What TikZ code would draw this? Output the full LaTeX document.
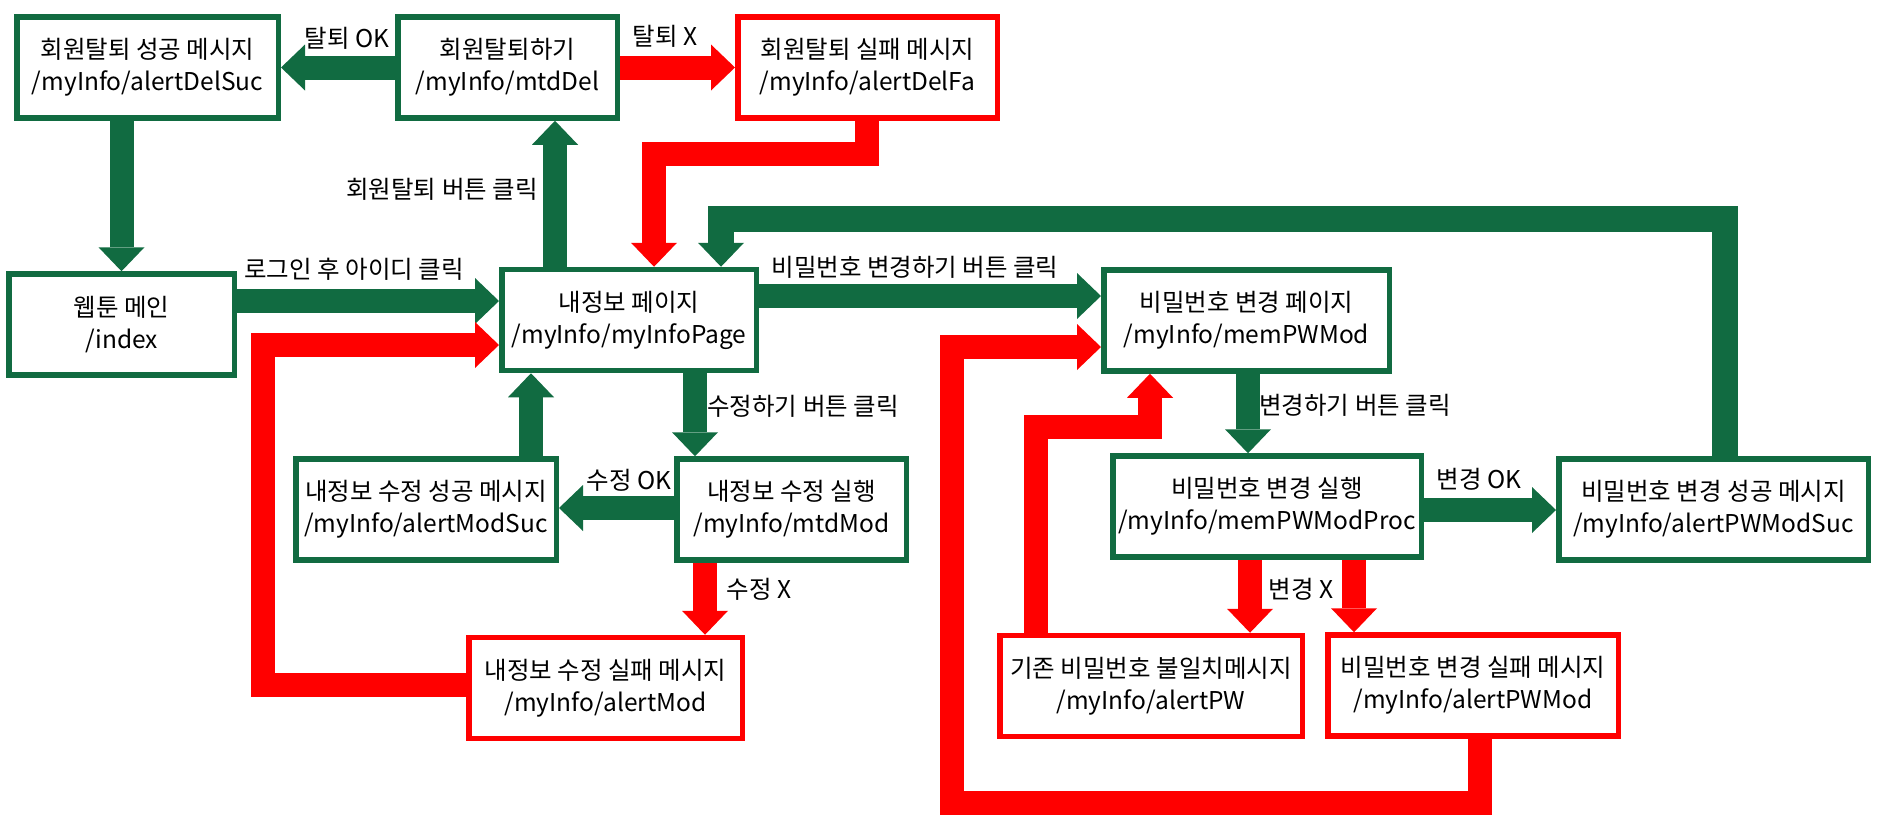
\documentclass[tikz,border=0pt]{standalone}
\usepackage{fontspec}
\setmainfont{Noto Sans CJK KR}
\usetikzlibrary{arrows.meta}
\definecolor{okgreen}{RGB}{17,107,65}
\definecolor{failred}{RGB}{255,0,0}
\begin{document}
\begin{tikzpicture}[x=1pt,y=-1pt,
  font=\fontsize{24.5}{32}\selectfont,
  box/.style={draw, line width=5.5pt, fill=white, minimum height=101pt, align=center, inner sep=0pt},
  okbox/.style={box, draw=okgreen},
  failbox/.style={box, draw=failred},
  flow/.style={line width=24pt, line join=miter,
    -{Triangle[length=24pt,width=46pt,line width=0pt]}},
  okflow/.style={flow, draw=okgreen},
  failflow/.style={flow, draw=failred},
  lbl/.style={inner sep=0pt}
]
\useasboundingbox (0,0) rectangle (1879,825);

% screens and actions
\node[okbox, minimum width=261.5pt] (b1) at (147.5,67.5) {회원탈퇴 성공 메시지\\/myInfo/alertDelSuc};
\node[okbox, minimum width=219.5pt] (b2) at (507.5,67.5) {회원탈퇴하기\\/myInfo/mtdDel};
\node[failbox, minimum width=259.5pt] (b3) at (867.5,67.5) {회원탈퇴 실패 메시지\\/myInfo/alertDelFa};
\node[okbox, minimum width=225.5pt] (b4) at (121.5,324.5) {웹툰 메인\\/index};
\node[okbox, minimum width=254.5pt] (b5) at (629,320) {내정보 페이지\\/myInfo/myInfoPage};
\node[okbox, minimum width=285.5pt] (b6) at (1246.5,320.5) {비밀번호 변경 페이지\\/myInfo/memPWMod};
\node[okbox, minimum width=260.5pt] (b7) at (426,509.5) {내정보 수정 성공 메시지\\/myInfo/alertModSuc};
\node[okbox, minimum width=229.5pt] (b8) at (791.5,509.5) {내정보 수정 실행\\/myInfo/mtdMod};
\node[failbox, minimum width=273.5pt] (b9) at (605.5,688) {내정보 수정 실패 메시지\\/myInfo/alertMod};
\node[okbox, minimum width=308.5pt] (b10) at (1267,506.5) {비밀번호 변경 실행\\/myInfo/memPWModProc};
\node[okbox, minimum width=309.5pt] (b11) at (1713.5,509.5) {비밀번호 변경 성공 메시지\\/myInfo/alertPWModSuc};
\node[failbox, minimum width=302.5pt] (b12) at (1151,686) {기존 비밀번호 불일치메시지\\/myInfo/alertPW};
\node[failbox, minimum width=290.5pt] (b13) at (1473,685.5) {비밀번호 변경 실패 메시지\\/myInfo/alertPWMod};

% withdrawal flow
\draw[okflow] (b2.west) -- (b1.east);
\draw[failflow] (b2.east) -- (b3.west);
\draw[okflow] (b1.south -| b4.north) -- (b4.north);
\draw[okflow] (b4.east |- 0,301) -- (b5.west |- 0,301);
\draw[okflow] (b5.north -| 555,0) -- (b2.south -| 555,0);
\draw[failflow] (b3.south -| 867,0) |- (654,154) -- (654,0 |- b5.north);

% profile edit flow
\draw[okflow] (b7.north -| 531,0) -- (b5.south -| 531,0);
\draw[okflow] (b5.south -| 695,0) -- (b8.north -| 695,0);
\draw[okflow] (b8.west |- 0,508) -- (b7.east |- 0,508);
\draw[failflow] (b8.south -| 705,0) -- (b9.north -| 705,0);
\draw[failflow] (b9.west |- 0,685) -| (263,345) -- (b5.west |- 0,345);

% password change flow
\draw[okflow] (b5.east |- 0,296) -- (b6.west |- 0,296);
\draw[okflow] (b6.south -| 1248,0) -- (b10.north -| 1248,0);
\draw[okflow] (b10.east |- 0,510) -- (b11.west |- 0,510);
\draw[okflow, line width=26pt] (b11.north -| 1725,0) |- (721,219) -- (721,0 |- b5.north);
\draw[failflow] (b10.south -| 1250,0) -- (b12.north -| 1250,0);
\draw[failflow] (b10.south -| 1354,0) -- (b13.north -| 1354,0);
\draw[failflow] (b12.north -| 1036,0) |- (1150,427) -- (1150,0 |- b6.south);
\draw[failflow] (b13.south -| 1480,0) |- (952,803) |- (b6.west |- 0,347);

% labels
\node[lbl] (l1) at (347,38) {탈퇴 OK};
\node[lbl] (l2) at (665,36) {탈퇴 X};
\node[lbl] (l3) at (442,189) {회원탈퇴 버튼 클릭};
\node[lbl] (l4) at (354,269) {로그인 후 아이디 클릭};
\node[lbl] (l5) at (915,267) {비밀번호 변경하기 버튼 클릭};
\node[lbl] (l6) at (803,406) {수정하기 버튼 클릭};
\node[lbl] (l7) at (629,480) {수정 OK};
\node[lbl] (l8) at (759,589) {수정 X};
\node[lbl] (l9) at (1355,405) {변경하기 버튼 클릭};
\node[lbl] (l10) at (1479,479) {변경 OK};
\node[lbl] (l11) at (1301,589) {변경 X};
\end{tikzpicture}
\end{document}
